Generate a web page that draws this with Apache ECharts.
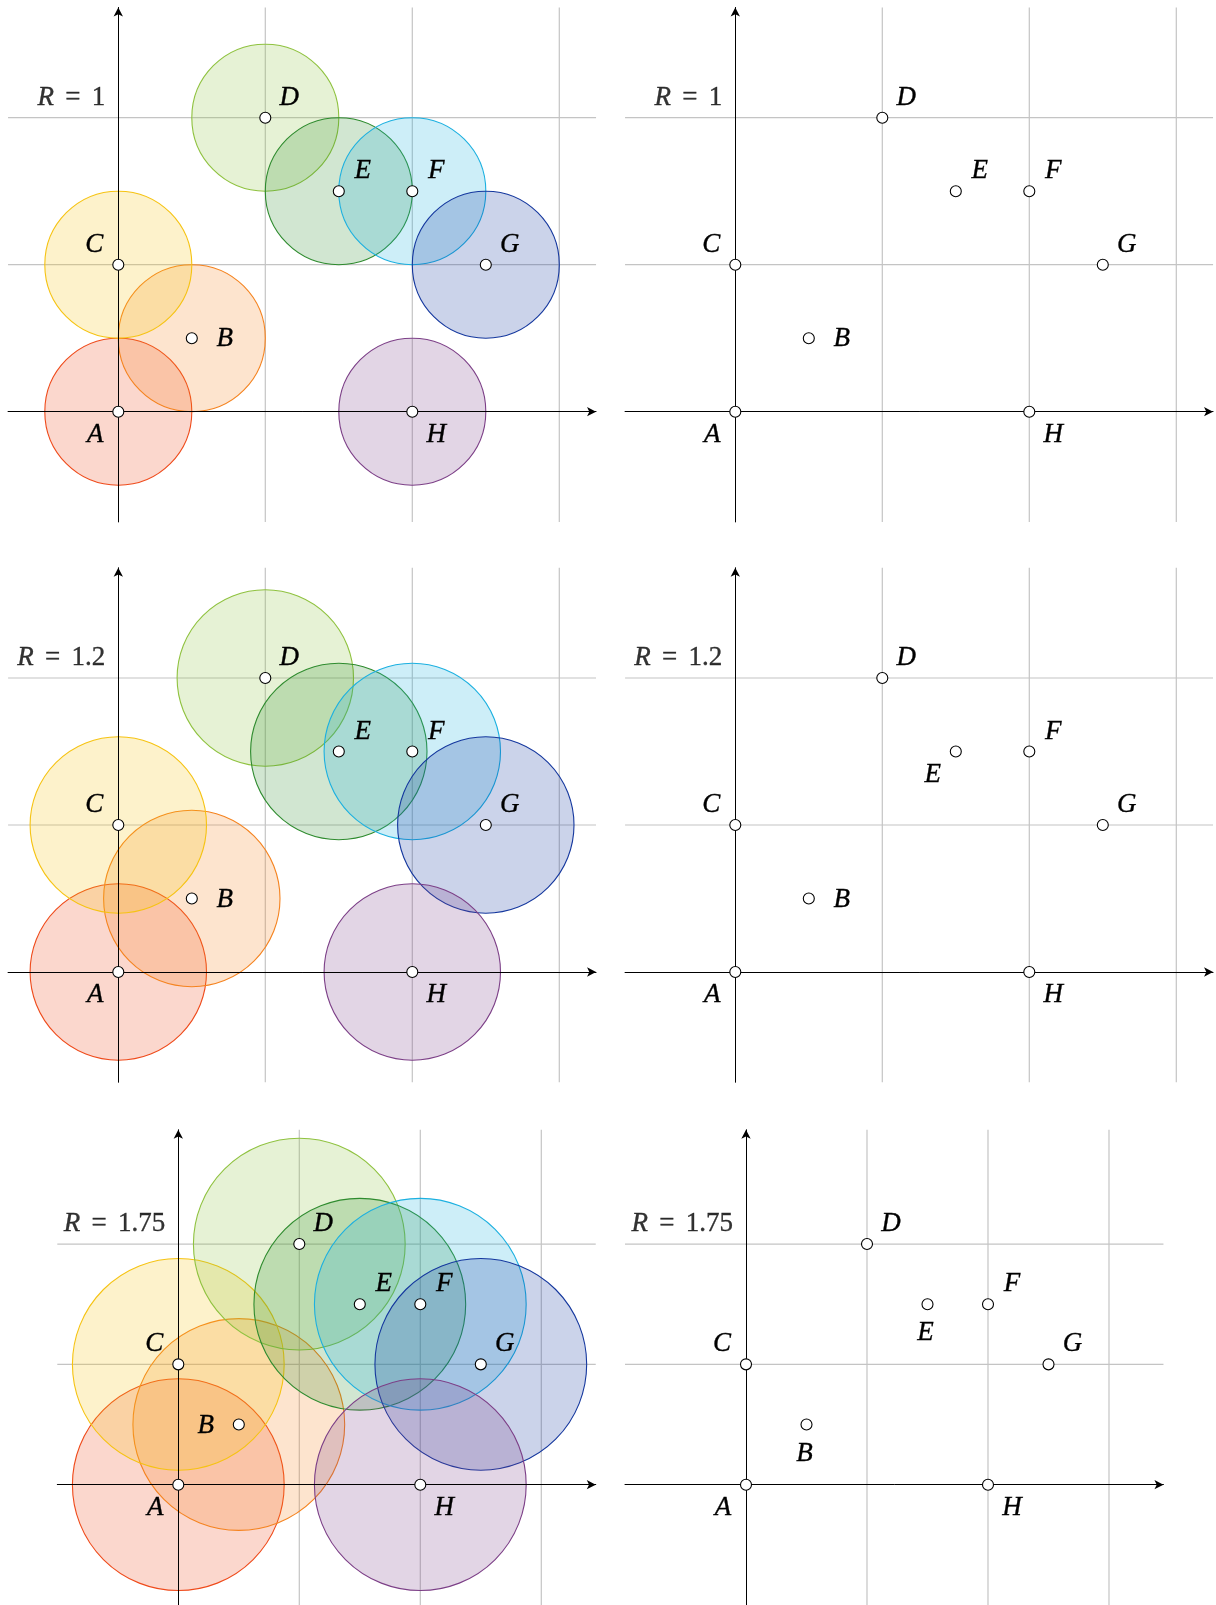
<!DOCTYPE html>
<html>
<head>
<meta charset="utf-8">
<script src="https://cdn.jsdelivr.net/npm/echarts@6/dist/echarts.min.js"></script>
<style>
html,body{margin:0;padding:0;background:#fff;}
#main{width:1216px;height:1605px;}
</style>
</head>
<body>
<div id="main"></div>
<script>
// ---- data ----
const pointNames = ['A', 'B', 'C', 'D', 'E', 'F', 'G', 'H'];
const pointX = [0, 0.5, 0, 1, 1.5, 2, 2.5, 2];
const pointY = [0, 0.5, 1, 2, 1.5, 1.5, 1, 0];
const radiusValues = [1, 1.2, 1.75];
const radiusLabels = ['1', '1.2', '1.75'];
const gridLinesX = [1, 2, 3];
const gridLinesY = [1, 2];
const circleColors = ['#ef4a1a', '#f5831f', '#f6c312', '#8fc23f', '#2e8b2e', '#1cb0e0', '#14379e', '#7c3f87'];

// ---- layout / styling ----
const FONT = "'Liberation Serif', 'DejaVu Serif', serif";
const FSIZE = 27;
const SP = '\u2004\u200A';
const TXT = {color: '#000', textBorderColor: '#000', textBorderWidth: 0.35};
const labelOffsets = {
  ar: [24, -20], al: [-24, -20], br: [24, 23], bl: [-23, 23],
  r: [33, 1], l: [-33, 1], b: [-2, 29]
};
const placeStd = ['bl', 'r', 'al', 'ar', 'ar', 'ar', 'ar', 'br'];
const placeMidRight = ['bl', 'r', 'al', 'ar', 'bl', 'ar', 'ar', 'br'];
const placeBotLeft = ['bl', 'l', 'al', 'ar', 'ar', 'ar', 'ar', 'br'];
const placeBotRight = ['bl', 'b', 'al', 'ar', 'b', 'ar', 'ar', 'br'];

const U1 = 147, U2 = 121;
const panels = [
  {r: 0, circles: true,  left: 8.05,   top: 7.45,   unit: U1, xMin: -0.75, xMax: 3.25, yMin: -0.75, yMax: 2.75, place: placeStd},
  {r: 0, circles: false, left: 625.05, top: 7.45,   unit: U1, xMin: -0.75, xMax: 3.25, yMin: -0.75, yMax: 2.75, place: placeStd},
  {r: 1, circles: true,  left: 8.05,   top: 567.75, unit: U1, xMin: -0.75, xMax: 3.25, yMin: -0.75, yMax: 2.75, place: placeStd},
  {r: 1, circles: false, left: 625.05, top: 567.75, unit: U1, xMin: -0.75, xMax: 3.25, yMin: -0.75, yMax: 2.75, place: placeMidRight},
  {r: 2, circles: true,  left: 57.3,   top: 1129.75, unit: U2, xMin: -1, xMax: 3.45, yMin: -1, yMax: 2.95, place: placeBotLeft},
  {r: 2, circles: false, left: 625,    top: 1129.75, unit: U2, xMin: -1, xMax: 3.45, yMin: -1, yMax: 2.95, place: placeBotRight}
];

function rgba(hex, a) {
  const n = parseInt(hex.slice(1), 16);
  return 'rgba(' + ((n >> 16) & 255) + ',' + ((n >> 8) & 255) + ',' + (n & 255) + ',' + a + ')';
}

const grid = [], xAxis = [], yAxis = [], series = [];
panels.forEach((p, i) => {
  grid.push({left: p.left, top: p.top, width: (p.xMax - p.xMin) * p.unit, height: (p.yMax - p.yMin) * p.unit});
  const axisCommon = {
    gridIndex: i, type: 'value', z: 4,
    axisLine: {show: true, onZero: true, symbol: ['none', 'arrow'], symbolSize: [7, 9],
      lineStyle: {color: '#000', width: 1}},
    axisTick: {show: false}, axisLabel: {show: false}, splitLine: {show: false}
  };
  xAxis.push(Object.assign({}, axisCommon, {min: p.xMin, max: p.xMax}));
  yAxis.push(Object.assign({}, axisCommon, {min: p.yMin, max: p.yMax}));

  // grid lines
  const glData = gridLinesX.map(v => [0, v]).concat(gridLinesY.map(v => [1, v]));
  series.push({
    type: 'custom', xAxisIndex: i, yAxisIndex: i, z: 1, silent: true,
    data: glData, encode: {x: -1, y: -1},
    renderItem: (params, api) => {
      const o = api.value(0), v = api.value(1);
      let a, b;
      if (o === 0) { a = api.coord([v, p.yMin]); b = api.coord([v, p.yMax]); }
      else { a = api.coord([p.xMin, v]); b = api.coord([p.xMax, v]); }
      return {type: 'line', shape: {x1: a[0], y1: a[1], x2: b[0], y2: b[1]},
        style: {stroke: '#c4c4c4', lineWidth: 1.2}};
    }
  });

  // circles
  if (p.circles) {
    const rad = radiusValues[p.r] / 2;
    series.push({
      type: 'custom', xAxisIndex: i, yAxisIndex: i, z: 2, silent: true,
      data: pointX.map((x, k) => [x, pointY[k], k]),
      renderItem: (params, api) => {
        const c = api.coord([api.value(0), api.value(1)]);
        const rr = api.size([rad, 0])[0];
        const col = circleColors[api.value(2)];
        return {type: 'circle', shape: {cx: c[0], cy: c[1], r: rr},
          style: {fill: rgba(col, 0.22), stroke: col, lineWidth: 1.1}};
      }
    });
  }

  // points with labels
  series.push({
    type: 'scatter', xAxisIndex: i, yAxisIndex: i, z: 6, silent: true,
    symbol: 'circle', symbolSize: 11,
    itemStyle: {color: '#fff', borderColor: '#000', borderWidth: 1.1, opacity: 1},
    label: Object.assign({show: true, position: 'inside', formatter: (q) => q.name,
      fontFamily: FONT, fontStyle: 'italic', fontSize: FSIZE,
      align: 'center', verticalAlign: 'middle'}, TXT),
    data: pointNames.map((n, k) => ({name: n, value: [pointX[k], pointY[k]],
      label: {offset: labelOffsets[p.place[k]]}}))
  });

  // R = ... label
  series.push({
    type: 'scatter', xAxisIndex: i, yAxisIndex: i, z: 6, silent: true,
    symbolSize: 0,
    label: {show: true, position: 'inside', align: 'right', verticalAlign: 'middle',
      offset: [-13, -20],
      formatter: '{i|R}{n|' + SP + '=' + SP + radiusLabels[p.r] + '}',
      rich: {
        i: Object.assign({fontFamily: FONT, fontStyle: 'italic', fontSize: FSIZE}, TXT),
        n: Object.assign({fontFamily: FONT, fontSize: FSIZE}, TXT)
      }},
    data: [{name: 'R', value: [0, 2]}]
  });
});

const chart = echarts.init(document.getElementById('main'), null, {renderer: 'canvas', width: 1216, height: 1605});
chart.setOption({animation: false, backgroundColor: '#fff', grid, xAxis, yAxis, series});
</script>
</body>
</html>
